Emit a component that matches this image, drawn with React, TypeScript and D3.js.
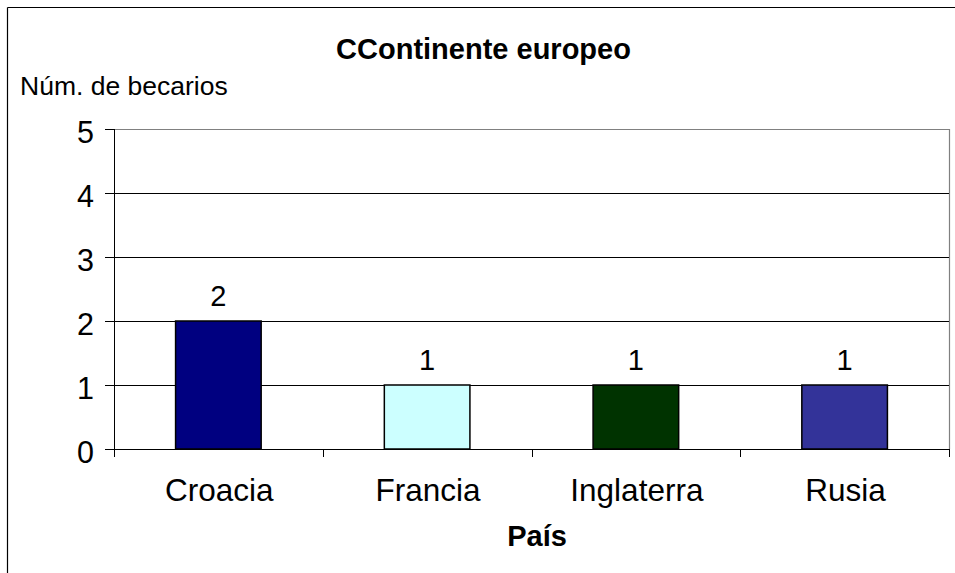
import React from "react";
import * as d3 from "d3";

const categories = ["Croacia", "Francia", "Inglaterra", "Rusia"];
const values = [2, 1, 1, 1];
const barColors = ["#000080", "#CCFFFF", "#003300", "#333399"];
const yTicks = [0, 1, 2, 3, 4, 5];
const titleText = "CContinente europeo";
const yAxisTitle = "Núm. de becarios";
const xAxisTitle = "País";

export default function App() {
  const W = 955;
  const H = 573;
  const left = 114;
  const right = 949;
  const top = 129;
  const bottom = 449;

  const x = d3.scaleBand<string>().domain(categories).range([left, right]).padding(0);
  const y = d3.scaleLinear().domain([0, 5]).range([bottom, top]);
  const step = x.step();
  const barW = step * 0.41;
  const font = "Arial, 'Liberation Sans', Helvetica, sans-serif";
  const tickXs = [...categories.map((c) => x(c) as number), right];

  return (
    <svg
      width={W}
      height={H}
      style={{ position: "absolute", left: 0, top: 0, background: "#fff" }}
      fontFamily={font}
    >
      <rect x={0} y={0} width={W} height={H} fill="#fff" />
      {/* outer frame */}
      <line x1={7.5} y1={7.5} x2={W} y2={7.5} stroke="#000" strokeWidth={1.2} />
      <line x1={7.5} y1={7.5} x2={7.5} y2={H} stroke="#000" strokeWidth={1.2} />

      {/* title */}
      <text x={483.5} y={59} textAnchor="middle" fontSize={29} fontWeight="bold" fill="#000">
        {titleText}
      </text>
      <text x={20} y={95} fontSize={26.5} fill="#000">
        {yAxisTitle}
      </text>

      {/* plot area border (grey) */}
      <line x1={left} y1={top + 0.5} x2={right + 0.5} y2={top + 0.5} stroke="#808080" strokeWidth={1.2} />
      <line x1={right + 0.5} y1={top} x2={right + 0.5} y2={bottom} stroke="#808080" strokeWidth={1.2} />

      {/* gridlines */}
      {yTicks
        .filter((t) => t > 0 && t < 5)
        .map((t) => (
          <line key={"g" + t} x1={left} x2={right} y1={Math.round(y(t)) + 0.5} y2={Math.round(y(t)) + 0.5} stroke="#000" strokeWidth={1} />
        ))}

      {/* bars */}
      {categories.map((c, i) => {
        const bx = (x(c) as number) + (step - barW) / 2;
        return (
          <g key={c}>
            <rect
              x={bx}
              y={y(values[i])}
              width={barW}
              height={y(0) - y(values[i])}
              fill={barColors[i]}
              stroke="#000"
              strokeWidth={1.5}
            />
            <text
              x={(x(c) as number) + step / 2}
              y={y(values[i]) - 15}
              textAnchor="middle"
              fontSize={29}
              fill="#000"
            >
              {values[i]}
            </text>
            <text
              x={(x(c) as number) + step / 2 + 1}
              y={501}
              textAnchor="middle"
              fontSize={31.5}
              fill="#000"
            >
              {c}
            </text>
          </g>
        );
      })}

      {/* y axis */}
      <line x1={left + 0.5} y1={top} x2={left + 0.5} y2={bottom + 8} stroke="#000" strokeWidth={1} />
      {yTicks.map((t) => (
        <g key={"y" + t}>
          <line x1={left - 9} x2={left} y1={Math.round(y(t)) + 0.5} y2={Math.round(y(t)) + 0.5} stroke="#000" strokeWidth={1} />
          <text x={94} y={y(t) + 14} textAnchor="end" fontSize={30.5} fill="#000">
            {t}
          </text>
        </g>
      ))}

      {/* x axis */}
      <line x1={left} y1={bottom + 0.5} x2={right + 0.5} y2={bottom + 0.5} stroke="#000" strokeWidth={1} />
      {tickXs.map((tx, i) => (
        <line key={"xt" + i} x1={Math.round(tx) + 0.5} x2={Math.round(tx) + 0.5} y1={bottom} y2={bottom + 8} stroke="#000" strokeWidth={1} />
      ))}

      <text x={537} y={546} textAnchor="middle" fontSize={29} fontWeight="bold" fill="#000">
        {xAxisTitle}
      </text>
    </svg>
  );
}
